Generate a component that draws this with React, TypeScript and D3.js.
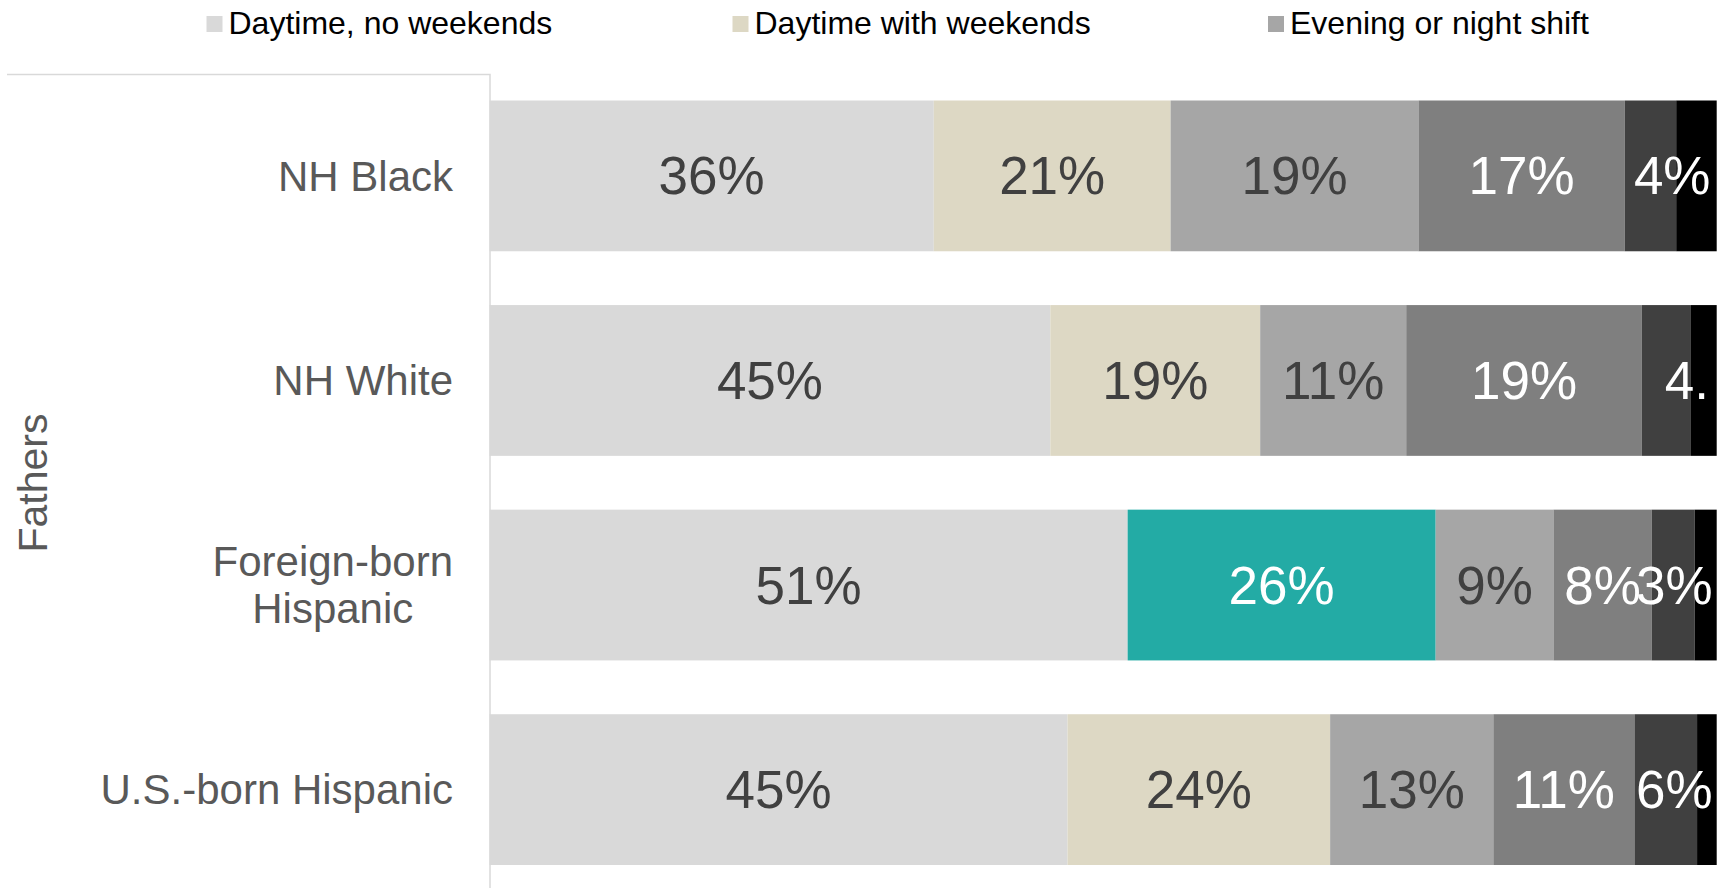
import { useEffect, useRef } from "react";
import { scaleBand, scaleLinear, select, stack } from "d3";

const categories = ["NH Black", "NH White", "Foreign-born Hispanic", "U.S.-born Hispanic"];
const seriesKeys = ["dayNoWeekends", "dayWithWeekends", "eveningNight", "s4", "s5", "s6"];
const legendLabels = ["Daytime, no weekends", "Daytime with weekends", "Evening or night shift"];
const seriesColors = ["#d9d9d9", "#ddd8c4", "#a6a6a6", "#7f7f7f", "#404040", "#000000"];
const highlightColor = "#23aba5";

// segment shares
const nhBlack = [36.2, 19.3, 20.2, 16.8, 4.2, 3.3];
const nhWhite = [45.7, 17.1, 11.9, 19.2, 4.0, 2.1];
const foreignBornHispanic = [52.0, 25.1, 9.6, 8.0, 3.5, 1.8];
const usBornHispanic = [47.1, 21.4, 13.3, 11.5, 5.1, 1.6];

// labels as they are printed on the bars
const nhBlackLabels = ["36%", "21%", "19%", "17%", "4%", ""];
const nhWhiteLabels = ["45%", "19%", "11%", "19%", "4.", ""];
const foreignBornLabels = ["51%", "26%", "9%", "8%", "3%", ""];
const usBornLabels = ["45%", "24%", "13%", "11%", "6%", ""];

// the one segment drawn in teal
const highlight = { category: "Foreign-born Hispanic", series: "dayWithWeekends" };

const font = "'Liberation Sans', Arial, sans-serif";

export default function App() {
    const svgRef = useRef<SVGSVGElement>(null);

    useEffect(() => {
        const svg = select(svgRef.current);
        svg.selectAll("*").remove();

        const width = 1732;
        const height = 888;
        const values = [nhBlack, nhWhite, foreignBornHispanic, usBornHispanic];
        const labels = [nhBlackLabels, nhWhiteLabels, foreignBornLabels, usBornLabels];

        const table = categories.map((cat, i) => {
            const row: any = { cat };
            seriesKeys.forEach((k, j) => { row[k] = values[i][j]; });
            return row;
        });
        const layers = stack().keys(seriesKeys)(table);

        const xScale = scaleLinear().domain([0, 100]).range([489.5, 1716.7]);
        const yScale = scaleBand()
            .domain(categories)
            .range([100.5, 865])
            .paddingInner(0.263)
            .paddingOuter(0);

        // frame around the category column
        svg.append("path")
            .attr("d", `M7,74.5 H490 V${height}`)
            .attr("fill", "none")
            .attr("stroke", "#d9d9d9")
            .attr("stroke-width", 1.5);

        // bars
        layers.forEach((layer, j) => {
            svg.selectAll(".bar-" + j)
                .data(layer)
                .join("rect")
                .attr("class", "bar-" + j)
                .attr("x", d => xScale(d[0]))
                .attr("y", d => yScale(d.data.cat))
                .attr("width", d => xScale(d[1]) - xScale(d[0]))
                .attr("height", yScale.bandwidth())
                .attr("fill", d =>
                    d.data.cat === highlight.category && layer.key === highlight.series
                        ? highlightColor : seriesColors[j]);
        });

        // segment labels
        const xEnd = xScale(100);
        layers.forEach((layer, j) => {
            layer.forEach((d, i) => {
                const txt = labels[i][j];
                if (!txt) return;
                const isHi = d.data.cat === highlight.category && layer.key === highlight.series;
                const x0 = xScale(d[0]);
                const x1 = xScale(d[1]);
                const t = svg.append("text")
                    .attr("font-family", font)
                    .attr("font-size", 53)
                    .attr("text-anchor", "middle")
                    .attr("dy", "0.35em")
                    .attr("y", yScale(d.data.cat) + yScale.bandwidth() / 2)
                    .attr("fill", isHi || j >= 3 ? "#ffffff" : "#404040")
                    .text(txt);
                const w = (t.node() as SVGTextElement).getComputedTextLength();
                let cx = (x0 + x1) / 2;
                // cramped labels spill to the right
                if (w > x1 - x0 - 8) cx = Math.max(x0 + 1 + w / 2, x1 - 4);
                if (cx + w / 2 > xEnd - 4) cx = xEnd - 4 - w / 2;
                t.attr("x", cx);
            });
        });

        // category labels, wrapped when too long
        const labelRight = 453;
        categories.forEach(cat => {
            const cy = yScale(cat) + yScale.bandwidth() / 2;
            const probe = svg.append("text")
                .attr("font-family", font)
                .attr("font-size", 42)
                .text(cat);
            const full = (probe.node() as SVGTextElement).getComputedTextLength();
            probe.remove();
            let lines = [cat];
            if (full > 380) {
                const words = cat.split(" ");
                lines = [words.slice(0, -1).join(" "), words[words.length - 1]];
            }
            const lineH = 47.5;
            const g = svg.append("text")
                .attr("font-family", font)
                .attr("font-size", 42)
                .attr("fill", "#595959");
            if (lines.length === 1) {
                g.attr("text-anchor", "end")
                    .attr("x", labelRight)
                    .attr("y", cy)
                    .attr("dy", "0.35em")
                    .text(cat);
            } else {
                g.attr("text-anchor", "middle");
                const spans = lines.map((ln, k) =>
                    g.append("tspan")
                        .attr("x", 0)
                        .attr("y", cy + (k - (lines.length - 1) / 2) * lineH)
                        .attr("dy", "0.35em")
                        .text(ln));
                const w = Math.max(...spans.map(s => (s.node() as SVGTSpanElement).getComputedTextLength()));
                spans.forEach(s => s.attr("x", labelRight - w / 2));
            }
        });

        // axis title
        svg.append("text")
            .attr("font-family", font)
            .attr("font-size", 41)
            .attr("fill", "#595959")
            .attr("text-anchor", "middle")
            .attr("transform", "translate(33,483) rotate(-90)")
            .attr("dy", "0.35em")
            .text("Fathers");

        // legend
        const legendX = [206.5, 732.5, 1268];
        legendLabels.forEach((name, i) => {
            svg.append("rect")
                .attr("x", legendX[i])
                .attr("y", 16)
                .attr("width", 16)
                .attr("height", 16)
                .attr("fill", seriesColors[i]);
            svg.append("text")
                .attr("font-family", font)
                .attr("font-size", 32)
                .attr("fill", "#000000")
                .attr("x", legendX[i] + 22)
                .attr("y", 34)
                .text(name);
        });

        svg.attr("width", width).attr("height", height);
    }, []);

    return (
        <svg
            ref={svgRef}
            width={1732}
            height={888}
            style={{ position: "absolute", left: 0, top: 0, background: "#fff", display: "block" }}
        ></svg>
    );
}
